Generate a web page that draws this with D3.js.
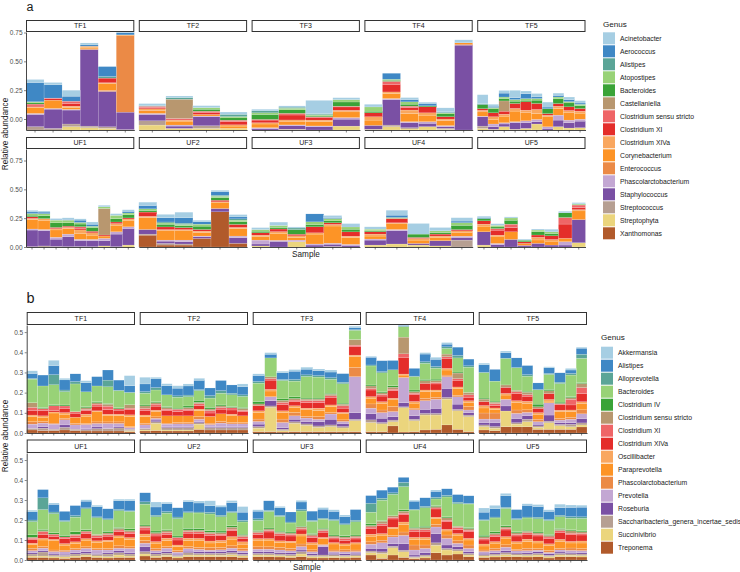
<!DOCTYPE html>
<html><head><meta charset="utf-8">
<script src="https://cdn.jsdelivr.net/npm/d3@7"></script>
<style>body{margin:0;background:#fff;} svg{display:block;font-family:"Liberation Sans",Arial,sans-serif;}</style>
</head><body><svg id="c" width="740" height="572"></svg>
<script>
// ---------- data ----------
const generaA = ["Acinetobacter","Aerococcus","Alistipes","Atopostipes","Bacteroides","Castellaniella","Clostridium sensu stricto","Clostridium XI","Clostridium XIVa","Corynebacterium","Enterococcus","Phascolarctobacterium","Staphylococcus","Streptococcus","Streptophyta","Xanthomonas"];
const generaB = ["Akkermansia","Alistipes","Alloprevotella","Bacteroides","Clostridium IV","Clostridium sensu stricto","Clostridium XI","Clostridium XIVa","Oscillibacter","Paraprevotella","Phascolarctobacterium","Prevotella","Roseburia","Saccharibacteria_genera_incertae_sedis","Succinivibrio","Treponema"];
const palette = ["#a6cee3","#3f88c5","#5ba597","#98d277","#3aa337","#b8976f","#ef6567","#e42d2a","#f9a75f","#fd9426","#eb8a46","#c3a7d3","#7a50a4","#b69f92","#ebd57d","#b15a2b"];
const facetNames = ["TF1","TF2","TF3","TF4","TF5","UF1","UF2","UF3","UF4","UF5"];
const ticksA = [0, 0.25, 0.5, 0.75];
const tickLabelsA = ["0.00","0.25","0.50","0.75"];
const ticksB = [0, 0.1, 0.2, 0.3, 0.4, 0.5];
const tickLabelsB = ["0.0","0.1","0.2","0.3","0.4","0.5"];

// panel a: values in percent, one row per sample, columns in generaA order
const aTF1 = [
[2.6,16.7,0,0.9,1.1,0,0.9,1.4,0.9,4.9,0,0.9,10.6,2.9,0,0],
[2.0,11.5,0,0,0,0,0.6,1.2,0,7.2,0,0.6,16.7,1.4,0,0],
[5.2,4.3,0,0,0,0,2.0,2.3,1.1,1.7,0,0.6,12.1,2.3,2.9,0],
[1.7,1.1,0,0,0,0,0,0,0.9,1.4,0.6,0,66.4,1.4,2.0,0],
[0,8.6,1.4,0,0,0,0,4.0,0.9,5.7,0.9,0,30.7,1.4,1.4,0],
[0.3,2.0,0,0,0,0,0,0,0,0.5,66.5,0,15.2,0,0.3,0]];
const aTF2 = [
[1.7,0,0.6,0,0,0,1.1,1.1,1.7,2.3,0,0.9,5.5,3.7,4.3,0],
[1.4,0,1.4,0,0,16.7,1.4,0,0.9,3.4,0,0.9,2.0,0,1.4,0],
[1.7,0,0,1.4,1.7,0,1.4,1.4,0,1.4,0,0.6,7.8,2.3,1.4,0],
[2.0,0,2.0,1.1,2.0,0,1.1,2.9,1.1,2.0,0,0,0,0,1.4,0]];
const aTF3 = [
[1.4,0,1.7,1.4,4.3,0,0.6,2.3,1.1,3.2,0,0.9,1.1,0,0,0],
[1.1,0,0.9,1.4,3.0,0,1.5,4.3,1.1,3.2,0,0.6,3.2,0,0.6,0],
[11.5,0,0.9,0.9,0.9,0,0.6,2.3,1.4,3.7,0,0.6,2.9,0,0,0],
[1.7,0,0,2.0,3.7,0,0.6,2.9,1.4,4.9,0,1.4,6.0,0,3.4,0]];
const aTF4 = [
[2.3,0,0,3.7,1.4,0,0,3.4,2.9,4.6,0,0,3.4,0,0.6,0],
[0,5.2,0,0.9,0.9,0,2.6,6.6,1.4,4.3,0,0.9,22.1,1.4,2.9,0],
[1.7,2.0,0,2.0,1.7,0,1.1,2.3,2.9,7.2,0,0.9,4.3,1.1,0.9,0],
[1.1,2.0,0,0,0.9,0,0,5.2,2.0,5.7,0,1.4,2.9,0,2.9,0],
[3.4,0.6,0,1.1,2.6,0,0,2.0,1.4,4.3,0,0.9,1.4,0.9,0.6,0],
[2.6,0,0,0,0,0,0,0,0,1.1,0.9,0,73.6,0,0,0]];
const aTF5 = [
[7.8,0,0.9,0,3.4,0,0,1.4,1.4,3.7,0,0.6,8.0,2.0,1.4,0],
[1.7,1.1,0,0.9,3.7,0,0,3.4,2.3,4.0,0,2.3,2.3,0,0.6,0],
[2.3,3.4,0,1.4,2.0,8.9,0,2.6,1.7,5.7,0,1.1,2.3,0,2.9,0],
[6.3,1.7,0,1.4,2.0,0,0,4.3,2.3,9.2,0,0.9,5.7,0,0.6,0],
[2.3,4.3,0,1.4,1.4,0,0,7.2,2.3,6.9,0,1.7,4.9,0,1.4,0],
[2.9,1.4,0,1.4,2.9,0,0,5.2,3.4,5.2,0,2.0,2.0,0,5.2,0],
[4.3,1.4,0,0,4.3,0,0,1.4,1.4,8.6,0,1.4,1.4,0,0,0],
[2.0,1.4,0,1.4,4.3,0,0,2.3,2.0,5.7,0,4.3,5.7,0,2.9,0],
[2.3,1.7,0,1.1,3.4,0,0,3.2,2.0,6.3,0,2.3,4.6,0,1.7,0],
[2.0,1.1,0,1.1,2.6,0,0,2.3,1.7,5.2,0,1.7,5.7,0,2.0,0]];
const aUF1 = [
[1.4,1.4,0,1.4,1.4,0,0,1.4,0.9,8.3,0,0.9,14.4,0,0.3,0],
[0.9,1.4,0,1.7,2.6,0,0,0,1.4,8.0,0,1.1,13.2,0.9,0,0],
[1.4,0,0,2.3,4.0,0,0,1.1,1.1,6.3,0,1.7,6.3,0.5,0,0],
[1.4,0.6,0,2.3,2.9,0,0,1.1,0.9,4.9,0,2.3,8.6,0.3,0,0],
[1.1,2.0,0,1.4,2.3,0,1.4,1.4,2.9,5.2,0,1.1,5.2,0.4,0,0],
[2.0,1.7,0,1.1,3.2,0,0,1.4,2.0,3.7,0,1.1,5.2,0.3,0,0],
[1.4,0,0,1.4,0,23.0,0,0.9,0,2.0,0,2.0,4.6,0,0.9,0],
[1.4,0,0,2.9,2.9,0,0,1.4,1.4,5.7,0,2.0,10.9,0.3,0,0],
[1.4,1.4,0,1.4,2.9,0,0,0.9,1.1,5.7,0,1.4,14.4,0,1.7,0]];
const aUF2 = [
[2.9,2.9,0,1.4,1.4,0,0,3.7,1.1,10.3,0,0,4.0,0.9,0,10.3],
[2.9,3.7,0.9,1.1,2.3,0,0,2.3,1.1,8.0,0,0.9,2.0,1.4,0,1.7],
[4.9,4.6,1.1,1.1,1.7,0,0,1.7,1.1,8.0,0,1.4,2.0,0.9,0,1.7],
[1.4,2.0,0,1.7,2.9,0,0,1.4,1.4,2.9,0,0.6,1.4,0,0,7.5],
[1.4,2.9,0.9,1.1,2.3,0,0,1.4,0.9,4.9,0,0,2.9,0,0,30.5],
[2.0,1.7,1.1,1.4,2.3,0,0,2.6,0.9,6.6,0,1.4,4.9,0,0,3.2]];
const aUF3 = [
[1.7,0,0,1.4,1.4,0,0,2.0,1.4,2.9,0,3.4,1.7,0,0.9,0],
[2.9,0,0,1.7,1.4,0,0,2.3,1.4,6.1,0,0.9,4.9,0,0,0],
[0.9,0,1.4,0,4.0,0,0,1.4,1.4,2.3,0,1.4,0,0,4.6,0],
[0,6.9,0,2.3,2.0,0,0,5.2,1.1,8.6,0,0.9,1.7,0,0,0],
[1.7,0.9,0,2.0,1.7,0,0,1.4,1.4,14.9,0,0.9,2.0,0,0.4,0],
[2.3,0.6,0,2.0,2.3,0,0,3.7,1.1,6.0,0,0.9,1.4,0,0,0]];
const aUF4 = [
[2.0,0,0,1.4,0.9,0,0,2.0,1.7,2.6,0,0.9,4.3,0,1.7,0],
[4.3,2.0,0,0.9,0,0,0,3.7,0.9,4.9,0,1.1,11.5,0,2.6,0],
[9.2,0,0,0,2.9,0,0,0.9,1.4,2.9,0,0,1.4,0,1.7,0],
[2.9,0,0,1.4,1.4,0,0,1.7,1.1,2.9,0,0,4.6,0,0.9,0],
[2.9,1.4,0,2.3,3.7,0,0,1.1,1.7,2.9,0,1.1,2.3,6.0,0,0]];
const aUF5 = [
[1.1,0.9,0,0,2.0,0,0,2.9,1.7,4.9,0,0,11.5,0,1.7,0],
[1.4,0,0,1.4,1.4,0,1.4,4.3,0.9,6.3,0,1.1,2.0,0,0,0],
[0.9,0,0,2.0,3.4,0,2.9,3.7,0,6.6,0,0,6.6,0,0,0],
[0.9,0,0,0,1.4,0,0,1.4,0,1.7,0,0,1.4,0,0,0],
[0.9,0,0,1.4,2.9,0,0,2.0,2.3,2.9,0,0,3.2,0,0,0],
[2.3,0,0,1.4,2.0,0,0,3.2,1.4,3.4,0,0,1.7,0,0,0],
[1.4,0,0,0,4.0,0,5.7,12.4,0,2.9,0,2.9,1.7,0,0,0],
[1.1,0,0,0.5,0.5,0,2.3,1.7,1.1,7.5,0,0,20.1,0,3.7,0]];

// panel b: values in percent, columns in generaB order
const bTF1 = [
[1.3,2.5,0.3,11.7,0,2.3,1.7,2.1,0.8,2.5,1.2,2.1,0,0.8,0,1.5],
[0,5.4,0,10.7,0.5,0,1.0,2.6,0.7,2.1,0.8,1.7,0.8,1.2,0,1.2],
[2.6,4.5,5.0,9.9,0.5,0,2.3,0.8,0.5,5.0,0.5,2.5,0,0.7,0,1.2],
[0.8,5.0,0.8,6.6,0.5,0,1.2,2.1,0.8,2.0,0.8,2.5,1.2,1.3,0,1.5],
[0,3.8,1.2,13.7,0,0,0.8,2.0,0,3.0,0.8,2.1,0,0.7,0,1.2],
[1.0,4.5,0,7.4,0.5,0.8,0.7,1.7,1.0,3.6,0.5,2.0,0.5,0.7,0,1.0],
[0,4.6,0,7.8,0.5,0.7,1.0,2.3,0.5,5.0,0.8,1.7,0.8,1.2,0,1.0],
[0,5.0,3.3,8.3,0.3,1.0,1.7,2.3,0.5,3.3,0.8,2.5,0,1.2,0,1.0],
[0,5.0,0.3,8.4,0.5,0,0.7,2.0,0.7,3.1,0.8,1.7,0.5,1.5,0,1.0],
[5.0,3.3,0,6.1,0,1.7,0.8,2.5,0.8,5.0,0.5,0.8,0,0.7,0.5,0.7]];
const bTF2 = [
[3.3,3.8,0.8,5.8,0.5,1.2,1.2,2.1,0.8,3.3,0.8,1.7,0,0.8,0.5,1.0],
[0.8,4.3,1.2,5.8,0.5,0.7,1.0,2.0,0.8,2.5,0.8,0.8,0.8,0.8,3.6,1.2],
[1.0,4.5,0,5.8,0.5,0.8,0.8,2.5,0,3.6,0.5,1.2,0.5,1.2,0.5,1.0],
[1.2,3.8,0.7,5.4,0.5,0,1.2,2.1,0,3.3,0.7,1.3,0.5,1.2,0.5,1.0],
[1.0,4.5,0.8,4.6,0.8,0.8,0.8,2.5,0,3.3,0.7,1.3,0.5,1.2,0.5,1.0],
[1.0,4.6,0.5,4.8,1.0,0.7,1.0,1.7,0.7,3.0,1.3,1.2,0.5,0.7,2.6,1.8],
[0,3.8,1.2,4.6,0.8,0.8,1.2,1.7,0,3.3,0.7,1.0,0.5,1.2,0,1.5],
[0,5.0,1.3,5.8,0.5,0.8,0.8,2.3,0,3.8,0.8,1.7,0.5,1.2,0,1.5],
[0,4.1,0.8,5.8,0.5,0,1.2,2.1,0.8,3.3,0.7,1.3,0.5,1.2,0,1.5],
[1.3,4.1,0.8,5.4,0.5,1.0,0.7,2.0,0,3.3,0.7,1.3,0.5,1.2,0,1.5]];
const bTF3 = [
[0.8,3.0,0.8,9.1,1.2,0.8,0,2.6,0.8,3.3,1.2,1.3,1.2,0.8,1.7,0.7],
[0.8,1.8,0,9.4,0,0.8,0.8,4.6,0.8,2.8,0,2.0,2.6,0.7,12.0,0.7],
[0.8,3.3,0.5,9.1,0.7,1.0,1.2,3.0,0.8,3.3,1.7,2.5,0.8,0.7,0.7,0.5],
[0.8,4.1,0.8,7.8,0.8,0.8,0.8,2.0,0.8,2.5,1.7,1.7,1.2,0.8,4.1,0.7],
[1.0,2.8,0.8,10.7,0.5,0.7,1.0,2.8,0.8,3.3,0.8,1.7,1.2,0.7,3.1,0.7],
[0.8,2.5,0.7,10.4,0.5,0.7,1.0,2.8,1.2,3.0,1.3,1.2,2.1,0.7,2.1,0.7],
[1.0,2.8,0.8,6.9,0.5,0.8,1.0,3.5,0.8,3.0,0.7,2.6,2.8,0.8,2.5,0.7],
[0,4.3,0.7,9.6,0.5,0.8,1.2,2.1,0.7,3.0,0.8,1.2,1.3,0.7,1.8,0.7],
[0.7,1.0,0.3,4.6,0,2.8,0.8,4.1,0.8,5.3,4.6,17.8,3.3,0.7,5.4,0.7]];
const bTF4 = [
[0.5,3.8,0.5,9.4,0.5,1.2,0.8,3.3,0.8,2.8,2.1,2.8,3.0,1.3,4.5,0.7],
[0,5.4,0.6,9.4,0.5,0.8,0.8,2.8,0.8,3.3,1.3,2.8,2.1,0.7,3.8,0.7],
[0,4.6,0,7.9,0.7,1.0,0.7,3.8,0.8,3.3,2.5,2.5,1.7,0.8,2.1,3.5],
[0.5,0.5,0,5.3,0,8.3,1.7,8.3,0.5,1.2,0,12.5,2.0,0.5,12.0,0.5],
[0,3.8,0.3,6.6,0.8,0.8,0.8,3.3,0.8,2.5,0.8,3.0,1.7,0.7,5.4,0.7],
[0.7,3.8,0.8,7.9,0.7,1.3,0,3.3,0.8,3.3,1.2,4.3,2.0,0.8,7.4,1.5],
[1.0,3.6,0.8,5.4,0.7,1.0,0.7,3.0,0.8,2.8,1.0,4.5,2.5,0.8,7.1,1.8],
[0.8,1.3,0.8,2.8,0,1.3,0.8,5.0,0.8,2.5,0.8,5.8,4.5,0.8,12.8,4.0],
[0,4.1,1.2,7.0,0.5,2.8,0.8,3.3,0.8,3.3,0.8,3.6,2.6,0.7,9.2,1.8],
[0,3.3,0.7,12.5,0,1.2,1.2,1.7,0.8,2.1,1.7,1.3,1.2,0.8,7.4,0.7]];
const bTF5 = [
[0.8,3.8,0,12.7,0.5,1.2,0,2.0,1.2,2.5,3.0,1.7,1.2,0.8,1.7,1.5],
[0,5.8,0,9.9,0.5,0.7,1.0,1.2,0.8,1.7,3.0,1.7,2.0,0.8,1.2,1.2],
[0.8,2.8,0,13.2,0,1.2,0,3.0,0.8,2.1,0,3.3,2.5,0,7.8,3.1],
[0,4.8,0,11.2,0,0.8,0.8,3.6,1.0,3.6,1.7,2.5,2.1,0.7,1.3,3.1],
[0,4.5,0.8,7.4,0.5,1.2,0.8,2.5,1.2,3.0,1.3,1.7,1.7,1.2,2.5,3.1],
[0,3.3,0,7.2,1.3,0.8,0,2.1,0.8,2.5,1.2,1.3,0.8,0.7,1.0,1.8],
[0.5,2.8,0.5,7.4,0.7,1.3,0,3.0,0.8,0.8,0,6.1,3.0,0.8,3.3,1.8],
[0,4.6,0.7,9.2,0.7,0,0.5,2.8,0.8,3.3,0.8,1.3,0.8,0.7,1.8,1.8],
[0.8,1.7,0.8,10.7,0.5,0.8,2.8,2.5,0.8,2.8,1.0,1.7,0.8,1.2,1.3,1.8],
[0.5,3.0,2.0,12.0,0.5,2.0,3.0,4.0,1.0,3.0,2.0,2.5,2.0,1.0,1.0,3.0]];
const bUF1 = [
[0.8,4.1,0.8,6.6,1.2,0.5,0.8,1.7,0.8,1.7,1.2,1.0,0.7,1.0,0.7,1.3],
[0,4.1,5.9,9.9,0.7,0.5,1.3,2.0,0.8,3.3,0.8,1.2,0.7,2.0,0.7,1.3],
[0.7,3.8,0.8,9.6,0.7,0,1.3,1.3,0.7,4.6,0.8,1.2,0.5,0.8,0.7,1.0],
[0,4.6,0.5,6.9,0.8,0,0.8,2.5,0.8,2.5,0.8,1.2,0.5,0.8,0.8,0.8],
[0,5.0,0.8,7.3,1.2,0.5,1.2,2.1,0.8,2.5,0.8,1.3,0.7,1.0,0.7,1.3],
[0.7,3.3,0.5,10.4,0.7,0.5,0.8,2.5,0.8,3.3,0.8,1.7,0.8,0.8,0.8,1.7],
[0.8,5.0,0.5,8.3,0,0.7,0.8,1.7,1.0,2.8,0.8,1.7,0.5,0.8,0.7,1.3],
[0,5.0,0.5,5.8,0.8,0.8,0.8,2.0,0.8,3.3,0.8,1.3,0.7,1.3,0.7,1.0],
[0.8,4.3,0.7,8.3,0.5,0.8,0.8,2.1,0.7,4.3,1.2,1.2,1.0,1.2,1.2,1.3],
[0.8,5.0,0.3,8.7,0.8,0.8,0.8,2.0,1.0,3.6,0.8,2.1,0.7,1.0,0.7,1.3]];
const bUF2 = [
[0,4.5,1.2,10.4,0.5,0.7,1.3,2.0,1.3,2.0,1.3,1.7,2.5,1.2,1.0,2.0],
[2.5,4.1,0.8,7.1,0.8,0.7,1.0,2.8,0.8,2.5,1.2,1.0,0.7,1.0,0.7,1.3],
[0.7,4.0,0.8,8.3,0.5,0.8,1.2,1.7,1.2,3.0,0.8,1.7,0.8,1.0,0.7,1.7],
[0,4.6,0.8,8.7,0.7,0,1.3,2.5,0.8,2.0,0.8,1.0,0.5,0.7,0.7,1.0],
[0.8,5.0,0.5,7.8,0.8,0.8,0.8,2.5,1.2,3.0,1.0,1.3,0.7,1.2,0.8,1.7],
[1.0,4.5,0.5,7.8,0.8,0.8,0.8,2.5,1.2,3.3,1.0,1.2,0.8,0.8,0.8,1.7],
[2.5,3.3,0.8,8.3,0.8,0.8,0.8,2.8,1.0,2.3,1.3,0.8,0.8,0.8,0.8,1.7],
[0.8,4.1,0.8,7.1,0.8,0.8,0.8,2.3,1.0,2.5,1.2,1.0,0.7,1.0,0.7,1.7],
[1.0,4.5,0.5,6.6,0.7,1.0,0.7,3.0,1.3,3.3,1.2,1.2,1.0,1.0,1.0,1.7],
[2.8,4.1,0.8,6.1,0.5,0.8,0.8,1.7,1.2,2.1,1.2,1.0,0.7,0.8,0.8,1.3]];
const bUF3 = [
[0.7,3.8,0.8,5.0,0.5,0.7,0.8,2.1,0.8,3.3,1.2,1.3,0.8,0.8,0.8,1.7],
[0,4.8,0.5,8.3,0.5,0.7,0.8,3.3,0.8,3.3,1.2,1.3,0.8,0.8,0.8,1.7],
[0.7,3.8,0.5,7.4,0.5,0.7,0.8,2.8,0.8,2.5,1.3,1.3,0.7,0.8,0.7,1.5],
[0,5.0,0.5,4.5,0.5,0.7,0.8,2.6,0.8,2.8,1.2,1.0,0.8,0.8,0.7,1.3],
[0.8,3.8,0.7,7.6,0.3,0.8,0.8,2.0,1.0,4.0,1.3,1.7,0.8,1.2,1.3,1.7],
[0,4.6,0.5,6.0,0.5,0.8,0.8,2.5,0.8,2.8,1.0,1.0,0.7,0.7,0.7,1.0],
[0.8,4.5,0.5,4.5,0.5,0.7,0.8,2.6,0.7,2.7,0.5,0.8,4.1,0.8,0.7,1.0],
[0.8,4.1,0.5,7.2,0.5,0.7,0.8,1.8,0.7,3.0,0.8,0.8,0.7,0.8,0.7,1.2],
[0.8,3.6,0.5,5.4,0.7,0.7,1.0,1.7,0.7,2.3,1.0,1.0,0.7,0.7,0.7,1.0],
[0,5.3,0.8,6.6,0.5,0.7,0.8,1.8,0.7,3.0,0.8,0.8,0.7,0.7,0.7,1.3]];
const bUF4 = [
[0,3.8,4.5,5.8,0.8,0.8,0.8,2.8,1.0,2.8,1.2,2.1,1.3,0.8,1.2,2.5],
[0,4.0,1.0,10.2,0.3,1.3,0.8,4.1,0.8,2.5,1.3,2.8,1.7,0.8,2.5,0.8],
[0,2.8,0.8,10.7,0,0.8,0.8,4.1,0.8,3.3,0.8,3.3,1.3,0.8,3.6,2.5],
[0,2.5,2.1,11.6,0.7,1.0,0.8,3.6,1.2,3.8,1.7,4.1,3.3,0.8,2.8,1.3],
[0.5,4.1,0.3,8.6,0.5,0.8,0.8,3.0,1.0,2.8,2.5,2.5,0.8,0.5,0.5,0.7],
[0,4.3,0.7,9.2,0.7,1.0,0.8,3.1,1.0,2.8,1.7,2.1,1.2,0.8,0.7,1.0],
[0.7,3.0,0.8,3.3,0.5,0.7,0.5,4.1,0.8,2.8,1.3,3.3,4.6,1.2,3.8,3.6],
[0,3.3,0.8,9.9,0.5,1.2,0.8,3.8,0.8,2.0,1.7,3.3,1.7,0.8,2.5,2.5],
[0,3.8,0.8,11.2,0,0.7,1.0,2.0,0.8,2.8,1.3,1.7,1.3,0.8,1.5,3.0],
[0,3.8,0.3,11.8,0.5,0.8,0.8,3.3,0.8,2.5,1.7,1.7,0.8,0.8,0.8,1.7]];
const bUF5 = [
[2.1,3.8,0.3,7.4,0.8,0.8,0.8,2.0,1.0,2.0,0.8,0.8,0.7,0.7,0.7,1.3],
[1.7,4.1,0.5,6.9,0.8,0.8,0.8,2.5,0.8,2.5,1.2,1.0,0.7,0.8,0.7,1.5],
[1.2,5.8,0.5,8.6,0.7,0.7,0.8,3.3,0.8,3.3,1.2,1.7,1.0,1.0,1.0,1.7],
[0,4.5,0.5,6.1,0.5,0.8,0.8,2.8,0.8,3.0,0.8,0.8,0.7,0.7,0.7,1.7],
[0.8,5.8,0.5,6.1,0.5,0.8,0.7,2.5,1.2,3.3,1.2,1.0,0.7,0.8,0.7,1.5],
[1.0,5.3,0.8,6.6,0.5,0.7,0.8,2.5,1.0,2.8,0.8,0.8,0.8,0.8,0.8,1.7],
[0.8,4.1,0.5,6.9,0.5,0.8,0.7,2.7,1.0,2.3,1.0,0.7,0.7,0.7,0.7,1.0],
[1.7,3.8,0.8,5.8,0.5,0.7,1.0,3.3,1.2,3.3,0.8,1.0,0.7,0.8,0.8,1.7],
[1.2,4.6,0.8,5.8,0.5,1.2,0.8,3.3,0.8,2.5,1.2,1.0,0.7,0.7,0.7,1.7],
[1.0,4.8,0.8,6.2,0.5,0.8,0.8,3.0,1.0,2.8,1.0,1.0,0.7,0.8,0.7,1.5]];

// ---------- drawing ----------
const svg = d3.select("#c");
const AX = "#333333", TXT = "#4d4d4d";

function drawFigure(cfg) {
  const g = svg.append("g");
  const keys = d3.range(cfg.genera.length).reverse(); // last genus at the bottom
  cfg.rows.forEach((row, ri) => {
    for (let ci = 0; ci < 5; ci++) {
      const fi = ri * 5 + ci;
      const rowsData = cfg.data[fi];
      const px = cfg.x0 + ci * cfg.step;
      const x = d3.scaleBand().domain(d3.range(rowsData.length)).range([px, px + cfg.pw]).padding(0);
      const y = d3.scaleLinear().domain([0, cfg.yMax]).range([row.bottom, row.top]);
      const objs = rowsData.map((r, i) => { const o = { i }; r.forEach((v, k) => o[k] = v / 100); return o; });
      const series = d3.stack().keys(keys)(objs);
      g.append("g").selectAll("g").data(series).join("g")
        .attr("fill", d => cfg.colors[d.key])
        .selectAll("rect").data(d => d).join("rect")
        .attr("x", d => x(d.data.i)).attr("width", x.bandwidth())
        .attr("y", d => y(d[1])).attr("height", d => Math.max(0, y(d[0]) - y(d[1])))
        .attr("stroke", "#ffffff").attr("stroke-width", 0.25).attr("stroke-opacity", 0.6);
      // strip
      g.append("rect").attr("x", px + 0.5).attr("y", row.stripTop + 0.5)
        .attr("width", cfg.pw - 1).attr("height", row.stripH - 1)
        .attr("fill", "#fff").attr("stroke", AX).attr("stroke-width", 1);
      g.append("text").attr("x", px + cfg.pw / 2).attr("y", row.stripTop + row.stripH / 2)
        .attr("dy", "0.35em").attr("text-anchor", "middle").attr("font-size", 7).attr("fill", "#1a1a1a")
        .text(facetNames[fi]);
      // bottom axis
      const xa = g.append("g").attr("transform", `translate(0,${row.bottom})`)
        .call(d3.axisBottom(x).tickSize(2.5).tickSizeOuter(0).tickFormat(""));
      xa.select(".domain").attr("stroke", AX).attr("stroke-width", 0.9);
      xa.selectAll(".tick line").attr("stroke", AX).attr("stroke-width", 0.6);
      // left axis
      if (ci === 0) {
        const ya = g.append("g").attr("transform", `translate(${px},0)`)
          .call(d3.axisLeft(y).tickValues(cfg.ticks).tickFormat((d, i) => cfg.tickLabels[i])
            .tickSize(2).tickPadding(1.5).tickSizeOuter(0));
        ya.select(".domain").attr("stroke", AX).attr("stroke-width", 0.9);
        ya.selectAll(".tick line").attr("stroke", AX).attr("stroke-width", 0.6)
          .attr("y1", row.labelShift).attr("y2", row.labelShift);
        ya.selectAll(".tick text").attr("font-size", 6.5).attr("fill", TXT)
          .attr("font-family", "Liberation Sans, Arial, sans-serif").attr("y", row.labelShift);
      }
    }
  });
  // axis titles
  g.append("text").attr("transform", `translate(${cfg.yTitleX},${cfg.yTitleY}) rotate(-90)`)
    .attr("text-anchor", "middle").attr("font-size", 8.2).attr("fill", "#1a1a1a").text("Relative abundance");
  g.append("text").attr("x", cfg.xTitleX).attr("y", cfg.xTitleY).attr("text-anchor", "middle")
    .attr("font-size", 8.2).attr("fill", "#1a1a1a").text("Sample");
  // panel letter
  g.append("text").attr("x", cfg.letterX).attr("y", cfg.letterY).attr("font-size", cfg.letterSize)
    .attr("fill", "#1a1a1a").attr("font-weight", 300).text(cfg.letter);
  // legend
  const lg = g.append("g");
  lg.append("text").attr("x", cfg.legX).attr("y", cfg.legTitleY).attr("dy", "0.35em")
    .attr("font-size", 8.1).attr("fill", "#1a1a1a").text("Genus");
  cfg.genera.forEach((name, k) => {
    const yy = cfg.legKeyY + k * 13;
    lg.append("rect").attr("x", cfg.legX).attr("y", yy).attr("width", 12).attr("height", 12)
      .attr("fill", cfg.colors[k]);
    lg.append("text").attr("x", cfg.legX + 17).attr("y", yy + 6).attr("dy", "0.35em")
      .attr("font-size", 6.8).attr("fill", "#1a1a1a").text(name);
  });
}

drawFigure({
  letter: "a", letterX: 26.5, letterY: 11, letterSize: 12.5,
  genera: generaA, colors: palette,
  data: [aTF1, aTF2, aTF3, aTF4, aTF5, aUF1, aUF2, aUF3, aUF4, aUF5],
  x0: 26, step: 112.8, pw: 108.3, yMax: 0.85,
  ticks: ticksA, tickLabels: tickLabelsA,
  rows: [
    { stripTop: 20, stripH: 12, top: 32, bottom: 130, labelShift: -11 },
    { stripTop: 137, stripH: 12, top: 149, bottom: 247, labelShift: 0 }
  ],
  yTitleX: 8, yTitleY: 134, xTitleX: 306, xTitleY: 257,
  legX: 603, legTitleY: 24, legKeyY: 32.3
});

drawFigure({
  letter: "b", letterX: 26.5, letterY: 303, letterSize: 14.5,
  genera: generaB, colors: palette,
  data: [bTF1, bTF2, bTF3, bTF4, bTF5, bUF1, bUF2, bUF3, bUF4, bUF5],
  x0: 26.7, step: 113, pw: 108.3, yMax: 0.535,
  ticks: ticksB, tickLabels: tickLabelsB,
  rows: [
    { stripTop: 312, stripH: 13, top: 325, bottom: 433, labelShift: 0 },
    { stripTop: 439.5, stripH: 13.5, top: 453, bottom: 560, labelShift: 0 }
  ],
  yTitleX: 8, yTitleY: 436, xTitleX: 307, xTitleY: 570,
  legX: 601, legTitleY: 337.3, legKeyY: 346.7
});
</script></body></html>
